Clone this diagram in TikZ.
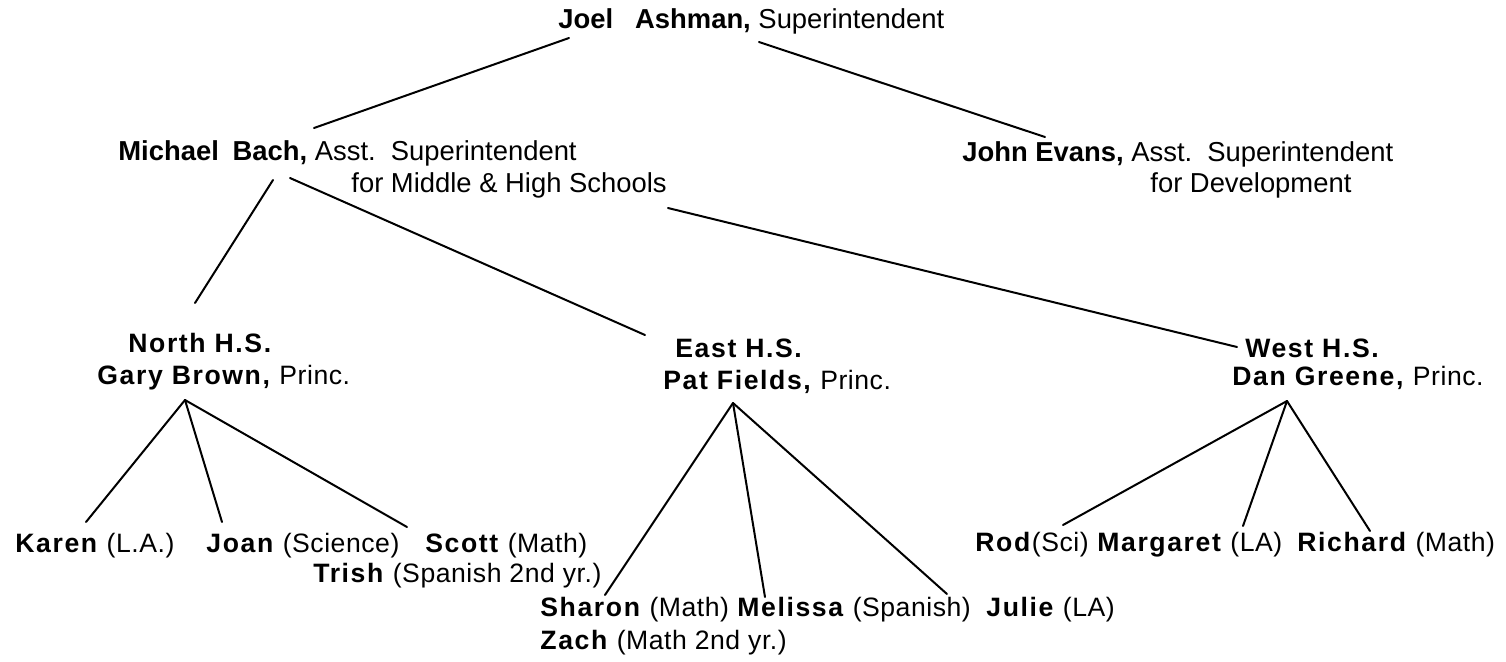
\documentclass[tikz,border=0pt]{standalone}
\usepackage{fontspec}
\setmainfont{Liberation Sans}
\newfontfamily\lowfont{Liberation Sans}[LetterSpace=2,BoldFeatures={LetterSpace=6}]
\usetikzlibrary{calc}

\begin{document}
\begin{tikzpicture}[x=0.5pt,y=-0.5pt,
  lbl/.style={anchor=base west,inner sep=0pt},
  upper/.style={lbl,font=\fontsize{13.7}{15}\selectfont},
  lower/.style={lbl,font=\lowfont\fontsize{13.3}{15}\selectfont},
  branch/.style={line width=1pt,line cap=round}]
\useasboundingbox[fill=white] (0,0) rectangle (1506,661);

% superintendent and assistants
\node[upper] (joel) at (558,28) {\textbf{Joel\hspace{0.8em}Ashman,} Superintendent};
\node[upper] (bach) at (118,160) {\textbf{Michael\hspace{0.5em}Bach,} Asst.\hspace{0.55em}Superintendent};
\node[upper] (bachfor) at (351,192) {for Middle \& High Schools};
\node[upper] (evans) at (962,161) {\textbf{John Evans,} Asst.\hspace{0.55em}Superintendent};
\node[upper] (evansfor) at (1150,192) {for Development};

% schools
\node[lower] (north) at (128,352) {\textbf{North H.S.}};
\node[lower] (brown) at (97,384) {\textbf{Gary Brown,} Princ.};
\node[lower] (east) at (675,357) {\textbf{East H.S.}};
\node[lower] (fields) at (663,389) {\textbf{Pat Fields,} Princ.};
\node[lower] (west) at (1245,357) {\textbf{West H.S.}};
\node[lower] (greene) at (1232,385) {\textbf{Dan Greene,} Princ.};

% teachers
\node[lower] (karen) at (15,552) {\textbf{Karen} (L.A.)};
\node[lower] (joan) at (206,552) {\textbf{Joan} (Science)};
\node[lower] (scott) at (425,552) {\textbf{Scott} (Math)};
\node[lower] (trish) at (313,582) {\textbf{Trish} (Spanish 2nd yr.)};
\node[lower] (sharon) at (540,616) {\textbf{Sharon} (Math)};
\node[lower] (melissa) at (737,616) {\textbf{Melissa} (Spanish)};
\node[lower] (julie) at (986,616) {\textbf{Julie} (LA)};
\node[lower] (zach) at (540,649) {\textbf{Zach} (Math 2nd yr.)};
\node[lower] (rod) at (975,551) {\textbf{Rod}(Sci)};
\node[lower] (margaret) at (1097,551) {\textbf{Margaret} (LA)};
\node[lower] (richard) at (1297,551) {\textbf{Richard} (Math)};

% connectors
\draw[branch] ($(joel.base west)+(11,10)$) -- ($(bach.base west)+(196,-32)$);
\draw[branch] ($(joel.base west)+(201,14)$) -- ($(evans.base west)+(83,-24)$);
\draw[branch] ($(bach.base west)+(155,20)$) -- ($(north.base west)+(67,-49)$);
\draw[branch] ($(bach.base west)+(172,18)$) -- ($(east.base west)+(-30,-22)$);
\draw[branch] ($(bachfor.base west)+(317,16)$) -- ($(west.base west)+(-8,-10)$);
\foreach \kid/\dx/\dy in {karen/71/-30, joan/16/-30, scott/-18/-25}
  \draw[branch] ($(brown.base west)+(88,16)$) -- ($(\kid.base west)+(\dx,\dy)$);
\foreach \kid/\dx/\dy in {sharon/65/-21, melissa/28/-19, julie/-39/-22}
  \draw[branch] ($(fields.base west)+(70,14)$) -- ($(\kid.base west)+(\dx,\dy)$);
\foreach \kid/\dx/\dy in {rod/88/-26, margaret/146/-25, richard/73/-20}
  \draw[branch] ($(greene.base west)+(55,16)$) -- ($(\kid.base west)+(\dx,\dy)$);
\end{tikzpicture}
\end{document}
